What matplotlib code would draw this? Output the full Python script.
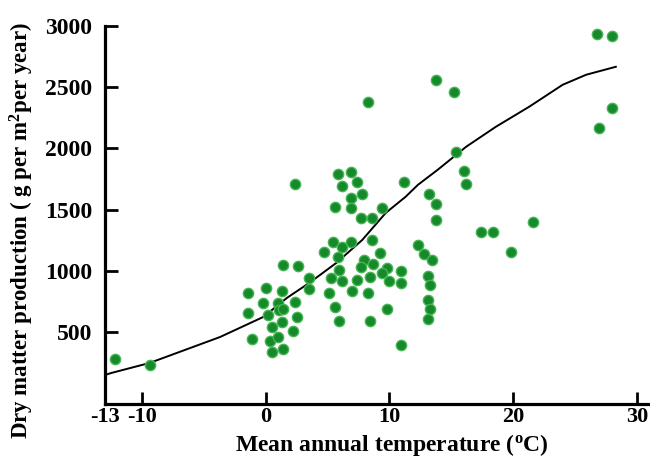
import matplotlib.pyplot as plt

plt.rcParams['font.family'] = ['Liberation Serif', 'DejaVu Serif']
plt.rcParams['font.weight'] = 'bold'
plt.rcParams['mathtext.fontset'] = 'custom'
plt.rcParams['mathtext.rm'] = 'Liberation Serif:bold'
plt.rcParams['mathtext.it'] = 'Liberation Serif:bold'
plt.rcParams['mathtext.bf'] = 'Liberation Serif:bold'

# site observations: mean annual temperature (C) vs dry matter production
temp = [-12.2, -9.4,
        -1.4, -1.4, -1.1, 0.0, 1.3, -0.2, 1.0, 2.4, 0.2, 1.1, 1.4, 2.5,
        0.5, 1.3, 2.2, 0.3, 1.0, 0.5, 1.4, 1.4, 2.6, 2.4, 3.5, 3.5,
        5.1, 5.6, 5.9, 5.3, 6.2, 5.9, 7.4, 7.0, 8.4, 8.3, 7.9, 7.7, 8.7,
        9.2, 9.8, 9.4, 10.9, 10.0, 10.9, 9.8, 8.4, 10.9,
        5.4, 6.2, 6.9, 8.6, 4.7, 5.8,
        5.8, 6.9, 6.2, 7.4, 6.9, 7.8, 5.6, 6.9, 9.4, 7.7, 8.6, 11.2,
        8.3,
        13.2, 13.8, 13.8, 12.3, 12.8, 13.4, 13.1, 13.3, 13.1, 13.3, 13.1,
        13.8, 15.2, 15.4, 16.0, 16.2,
        17.4, 18.4, 21.6, 19.8,
        26.8, 28.0, 28.0, 26.9]
prod = [280, 230,
        820, 655, 445, 860, 835, 740, 740, 745, 640, 680, 690, 625,
        540, 585, 510, 425, 460, 340, 360, 1050, 1040, 1710, 945, 855,
        820, 705, 590, 945, 920, 1010, 925, 835, 950, 820, 1090, 1035, 1055,
        1145, 1025, 985, 1000, 920, 900, 690, 590, 395,
        1235, 1195, 1235, 1255, 1155, 1115,
        1790, 1810, 1695, 1725, 1595, 1630, 1525, 1515, 1515, 1435, 1435, 1725,
        2380,
        1630, 1545, 1415, 1210, 1140, 1090, 960, 885, 765, 690, 605,
        2560, 2465, 1975, 1815, 1710,
        1320, 1320, 1400, 1155,
        2935, 2920, 2330, 2170]

# fitted trend line
curve_x = [-13, -12.5, -9.4, -3.7, -0.2, 1.7, 3.5, 5.7, 7.8, 9.7, 11.3,
           12.3, 13.9, 16.2, 18.6, 21.3, 24.0, 25.9, 28.3]
curve_y = [150, 166, 248, 460, 624, 779, 901, 1065, 1253, 1474, 1605,
           1703, 1826, 2014, 2177, 2341, 2520, 2602, 2667]

x_ticks = [-13, -10, 0, 10, 20, 30]
y_ticks = [500, 1000, 1500, 2000, 2500, 3000]

fig = plt.figure(figsize=(6.5, 4.62), dpi=100)
ax = fig.add_axes([105 / 650, 58 / 462, 543 / 650, 378 / 462])

ax.plot(curve_x, curve_y, color='black', lw=1.4, zorder=2)
ax.scatter(temp, prod, s=55, facecolor='#168a2b', edgecolor='#45b552',
           linewidth=1.0, zorder=3)

ax.set_xlim(-13, 30.9)
ax.set_ylim(-87, 3000)
ax.set_xticks(x_ticks)
ax.set_yticks(y_ticks)
ax.set_xticklabels([str(t) for t in x_ticks])
ax.set_yticklabels([str(t) for t in y_ticks])

for side in ['top', 'right']:
    ax.spines[side].set_visible(False)
for side in ['left', 'bottom']:
    ax.spines[side].set_linewidth(2.3)
ax.tick_params(direction='in', length=9, width=2)
ax.tick_params(axis='y', pad=9, labelsize=17)
ax.tick_params(axis='x', pad=2, labelsize=16)

ax.set_xlabel('Mean annual temperature ($^{\\rm o}$C)', fontsize=17,
              fontweight='bold')
ax.xaxis.set_label_coords(0.529, -0.075)
ax.set_ylabel('Dry matter production ( g per m$^{2}$per year)', fontsize=16.5,
              fontweight='bold')
ax.yaxis.set_label_coords(-0.127, 0.46)

fig.savefig('out.png', dpi=100)
